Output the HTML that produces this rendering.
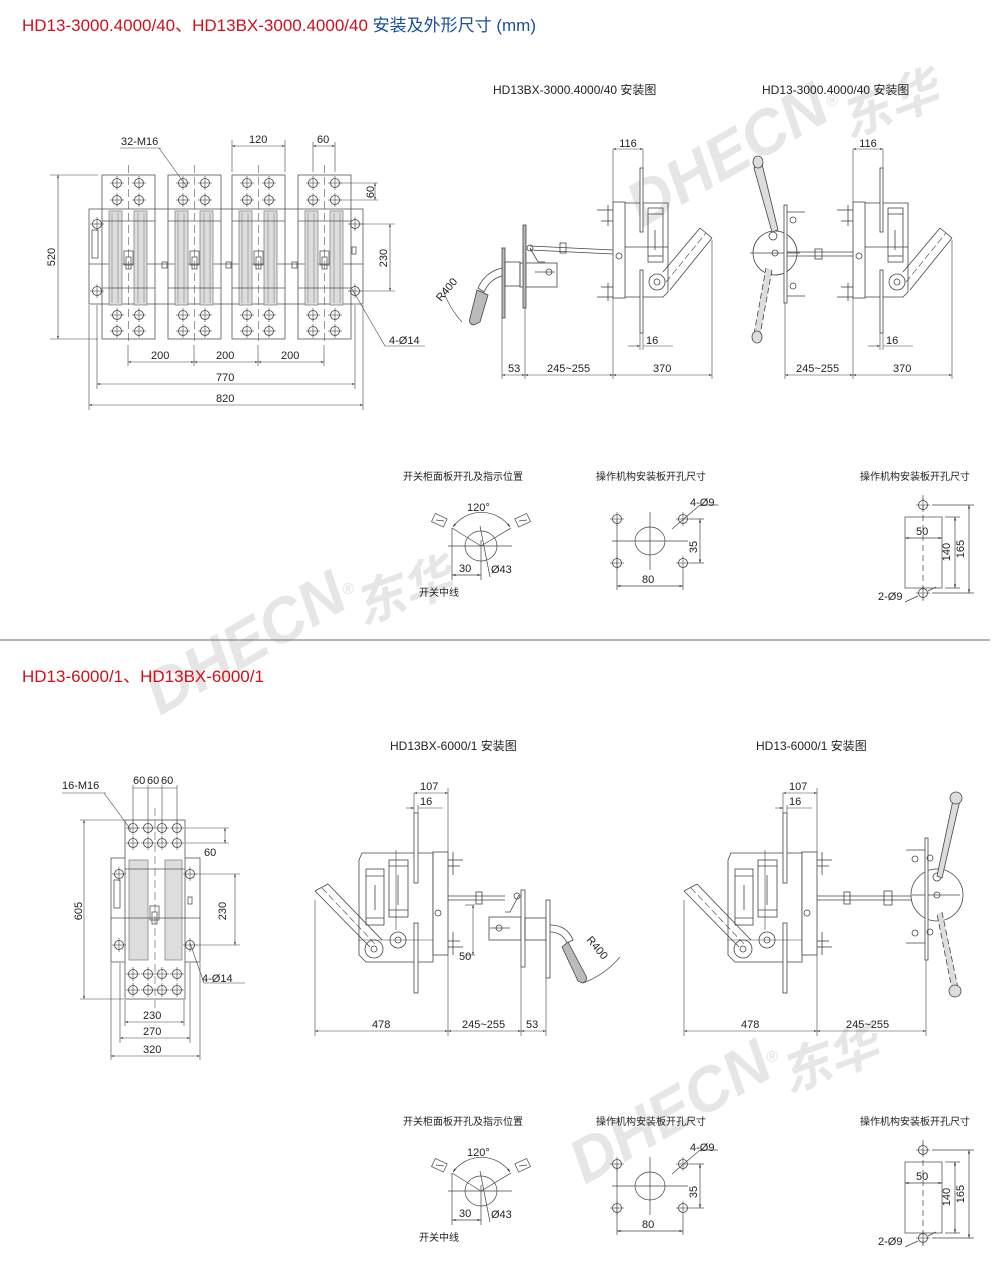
<!DOCTYPE html>
<html><head><meta charset="utf-8"><style>
html,body{margin:0;padding:0;background:#fff}
svg{display:block}
text{font-family:"Liberation Sans","Noto Sans CJK SC",sans-serif;fill:#222}
.d{font-size:11px}
.t{font-size:12px}
.s{font-size:10px}
</style></head><body>
<svg width="1000" height="1262" viewBox="0 0 1000 1262" xmlns="http://www.w3.org/2000/svg">
<defs>
<marker id="a" viewBox="0 0 10 10" refX="10" refY="5" markerWidth="5" markerHeight="5" orient="auto-start-reverse"><path d="M0,2 L10,5 L0,8z" fill="#333"/></marker>
<g id="hole"><circle r="4.5" fill="none" stroke="#444" stroke-width="0.8"/><line x1="-7" y1="0" x2="7" y2="0" stroke="#444" stroke-width="0.6"/><line x1="0" y1="-7" x2="0" y2="7" stroke="#444" stroke-width="0.6"/></g>
<g id="mod" fill="none" stroke="#555" stroke-width="0.8">
 <rect x="0" y="0" width="53" height="164"/>
 <rect x="7" y="36" width="13" height="94" fill="#ddd" stroke="#888"/>
 <rect x="32" y="36" width="13" height="94" fill="#ddd" stroke="#888"/>
 <line x1="10" y1="38" x2="10" y2="128" stroke="#999"/><line x1="16" y1="38" x2="16" y2="128" stroke="#999"/>
 <line x1="36" y1="38" x2="36" y2="128" stroke="#999"/><line x1="42" y1="38" x2="42" y2="128" stroke="#999"/>
 <line x1="0" y1="46" x2="53" y2="46"/><line x1="0" y1="113" x2="53" y2="113"/>
 <rect x="22" y="76" width="9" height="14"/><rect x="24" y="82" width="5" height="12"/>
 <line x1="26.5" y1="-10" x2="26.5" y2="170" stroke-dasharray="8 4" stroke-width="0.6"/>
 <use href="#hole" x="15" y="8"/><use href="#hole" x="37" y="8"/>
 <use href="#hole" x="15" y="25"/><use href="#hole" x="37" y="25"/>
 <use href="#hole" x="15" y="140"/><use href="#hole" x="37" y="140"/>
 <use href="#hole" x="15" y="156"/><use href="#hole" x="37" y="156"/>
</g>
<g id="tmech" fill="none" stroke="#444" stroke-width="0.8">
 <rect x="0" y="202" width="12" height="96" fill="#fff"/>
 <path d="M12,203 H55 V292 L50,297 H12"/>
 <rect x="35" y="208" width="15" height="54"/>
 <line x1="35" y1="214" x2="50" y2="214"/><line x1="35" y1="256" x2="50" y2="256"/>
 <line x1="42" y1="230" x2="42" y2="250"/>
 <rect x="27" y="168" width="3" height="64" fill="#fff"/>
 <rect x="27" y="270" width="3" height="63" fill="#fff"/>
 <circle cx="44" cy="282" r="8"/><circle cx="44" cy="282" r="3"/>
 <circle cx="6" cy="256" r="3"/>
 <line x1="-16" y1="210" x2="0" y2="210"/><line x1="-12" y1="221" x2="0" y2="221"/>
 <line x1="-16" y1="297" x2="0" y2="297"/><line x1="-12" y1="287" x2="0" y2="287"/>
 <line x1="-5" y1="205" x2="-5" y2="226"/><line x1="-5" y1="283" x2="-5" y2="301"/>
 <line x1="12" y1="247" x2="55" y2="247"/>
 <line x1="50" y1="272" x2="87" y2="228"/><line x1="57" y1="290" x2="99" y2="238"/>
 <line x1="87" y1="228" x2="99" y2="238"/>
 <line x1="53" y1="282" x2="93" y2="233" stroke-dasharray="7 3" stroke-width="0.6"/>
 <line x1="0" y1="149" x2="0" y2="202" stroke-width="0.6"/><line x1="30" y1="149" x2="30" y2="168" stroke-width="0.6"/>
 <line x1="0" y1="149" x2="30" y2="149" marker-start="url(#a)" marker-end="url(#a)" stroke-width="0.6"/>
 <line x1="27" y1="333" x2="27" y2="350" stroke-width="0.6"/><line x1="30" y1="333" x2="30" y2="350" stroke-width="0.6"/>
 <line x1="15" y1="346" x2="27" y2="346" marker-end="url(#a)" stroke-width="0.6"/><line x1="30" y1="346" x2="60" y2="346" stroke-width="0.6"/>
 <line x1="0" y1="298" x2="0" y2="379" stroke-width="0.6"/><line x1="99" y1="240" x2="99" y2="379" stroke-width="0.6"/>
 <line x1="0" y1="375" x2="99" y2="375" marker-start="url(#a)" marker-end="url(#a)" stroke-width="0.6"/>
</g>
<g id="bmech" fill="none" stroke="#444" stroke-width="0.8">
 <path d="M-89,860 L-86,853 H-15 V962 H-82 L-89,955 Z" fill="#fff"/>
 <rect x="-15" y="852" width="15" height="103" fill="#fff"/>
 <rect x="-82" y="869" width="18" height="56"/><line x1="-82" y1="876" x2="-64" y2="876"/><line x1="-82" y1="918" x2="-64" y2="918"/>
 <rect x="-59" y="860" width="19" height="57"/><line x1="-59" y1="866" x2="-40" y2="866"/><line x1="-59" y1="910" x2="-40" y2="910"/>
 <line x1="-73" y1="885" x2="-73" y2="910"/><line x1="-50" y1="875" x2="-50" y2="905"/>
 <line x1="-52" y1="850" x2="-52" y2="930" stroke-width="0.6"/>
 <rect x="-34" y="813" width="4" height="70" fill="#fff"/><rect x="-34" y="923" width="4" height="70" fill="#fff"/>
 <circle cx="-74" cy="949" r="9"/><circle cx="-74" cy="949" r="3"/>
 <circle cx="-50" cy="940" r="8"/><circle cx="-50" cy="940" r="3"/>
 <line x1="-90" y1="940" x2="-15" y2="940" stroke-width="0.6"/>
 <circle cx="-10" cy="913" r="3"/>
 <line x1="0" y1="860" x2="15" y2="860"/><line x1="0" y1="866" x2="12" y2="866"/><line x1="5" y1="852" x2="5" y2="875"/>
 <line x1="0" y1="947" x2="15" y2="947"/><line x1="0" y1="941" x2="12" y2="941"/><line x1="5" y1="932" x2="5" y2="955"/>
 <line x1="-133" y1="891" x2="-78" y2="947"/><line x1="-120" y1="884" x2="-66" y2="940"/>
 <line x1="-133" y1="891" x2="-120" y2="884"/>
 <line x1="-126" y1="888" x2="-72" y2="945" stroke-dasharray="7 3" stroke-width="0.6"/>
 <line x1="-34" y1="793" x2="-34" y2="813" stroke-width="0.6"/><line x1="0" y1="788" x2="0" y2="852" stroke-width="0.6"/>
 <line x1="-34" y1="793" x2="0" y2="793" marker-start="url(#a)" marker-end="url(#a)" stroke-width="0.6"/>
 <line x1="-30" y1="805" x2="-30" y2="813" stroke-width="0.6"/>
 <line x1="-42" y1="808" x2="-34" y2="808" marker-end="url(#a)" stroke-width="0.6"/><line x1="-30" y1="808" x2="-5" y2="808" stroke-width="0.6"/>
 <line x1="-133" y1="900" x2="-133" y2="1036" stroke-width="0.6"/><line x1="0" y1="955" x2="0" y2="1036" stroke-width="0.6"/>
 <line x1="-133" y1="1031" x2="0" y2="1031" marker-start="url(#a)" marker-end="url(#a)" stroke-width="0.6"/>
</g>
<g id="panels">
 <text x="403" y="480" class="s">开关柜面板开孔及指示位置</text>
 <text x="596" y="480" class="s">操作机构安装板开孔尺寸</text>
 <text x="860" y="480" class="s">操作机构安装板开孔尺寸</text>
 <g fill="none" stroke="#444" stroke-width="0.7">
  <ellipse cx="481" cy="546" rx="16" ry="15"/>
  <line x1="448" y1="546" x2="512" y2="546"/>
  <line x1="452" y1="528" x2="452" y2="580"/><line x1="481" y1="540" x2="481" y2="580"/>
  <line x1="481" y1="546" x2="452" y2="528"/><line x1="481" y1="546" x2="511" y2="528"/>
  <path d="M453,527 A35,35 0 0 1 510,527" marker-start="url(#a)" marker-end="url(#a)"/>
  <line x1="480" y1="526" x2="490" y2="577"/>
  <line x1="452" y1="575" x2="481" y2="575" marker-start="url(#a)" marker-end="url(#a)"/>
  <rect x="433" y="516" width="13" height="9" transform="rotate(25 440 520)"/>
  <rect x="516" y="516" width="13" height="9" transform="rotate(-25 522 520)"/>
  <line x1="436" y1="520" x2="444" y2="521"/><line x1="519" y1="521" x2="527" y2="520"/>
  <use href="#hole" x="617" y="519"/><use href="#hole" x="683" y="519"/>
  <use href="#hole" x="617" y="563"/><use href="#hole" x="683" y="563"/>
  <ellipse cx="650" cy="541" rx="15" ry="14"/>
  <line x1="612" y1="541" x2="688" y2="541"/><line x1="650" y1="512" x2="650" y2="570"/>
  <line x1="617" y1="519" x2="617" y2="590"/><line x1="683" y1="570" x2="683" y2="590"/>
  <line x1="617" y1="586" x2="683" y2="586" marker-start="url(#a)" marker-end="url(#a)"/>
  <line x1="690" y1="519" x2="704" y2="519"/><line x1="690" y1="563" x2="704" y2="563"/>
  <line x1="700" y1="519" x2="700" y2="563" marker-start="url(#a)" marker-end="url(#a)"/>
  <line x1="672" y1="529" x2="700" y2="505"/><line x1="700" y1="505" x2="718" y2="505"/>
  <rect x="905" y="517" width="37" height="71"/>
  <line x1="923" y1="495" x2="923" y2="603" stroke-dasharray="6 4"/>
  <use href="#hole" x="923" y="505"/><use href="#hole" x="923" y="593"/>
  <line x1="905" y1="538" x2="942" y2="538" marker-start="url(#a)" marker-end="url(#a)"/>
  <line x1="945" y1="517" x2="960" y2="517"/><line x1="945" y1="588" x2="960" y2="588"/>
  <line x1="932" y1="505" x2="974" y2="505"/><line x1="932" y1="593" x2="974" y2="593"/>
  <line x1="955" y1="517" x2="955" y2="588" marker-start="url(#a)" marker-end="url(#a)"/>
  <line x1="969" y1="505" x2="969" y2="593" marker-start="url(#a)" marker-end="url(#a)"/>
  <line x1="905" y1="602" x2="918" y2="596"/><line x1="928" y1="591" x2="936" y2="587"/>
 </g>
 <text x="467" y="511" class="d">120°</text>
 <text x="459" y="572" class="d">30</text>
 <text x="491" y="573" class="d">Ø43</text>
 <text x="419" y="596" class="s">开关中线</text>
 <text x="690" y="506" class="d">4-Ø9</text>
 <text x="642" y="583" class="d">80</text>
 <text x="697" y="547" class="d" transform="rotate(-90 697 547)" text-anchor="middle">35</text>
 <text x="916" y="535" class="d">50</text>
 <text x="950" y="552" class="d" transform="rotate(-90 950 552)" text-anchor="middle">140</text>
 <text x="964" y="549" class="d" transform="rotate(-90 964 549)" text-anchor="middle">165</text>
 <text x="878" y="600" class="d">2-Ø9</text>
</g>
</defs>

<g font-family="Liberation Sans, sans-serif" font-weight="bold" font-style="italic">
 <text x="160" y="716" font-size="62" transform="rotate(-30 160 716)" style="fill:#e6e6e6">DHECN</text>
 <text x="342" y="594" font-size="16" style="fill:#e6e6e6">®</text>
 <text x="362" y="625" font-size="50" transform="rotate(-20 362 625)" style="fill:#e6e6e6;font-family:'Noto Sans CJK SC',sans-serif">东华</text>
 <text x="585" y="1185" font-size="62" transform="rotate(-30 585 1185)" style="fill:#e6e6e6">DHECN</text>
 <text x="766" y="1062" font-size="16" style="fill:#e6e6e6">®</text>
 <text x="788" y="1093" font-size="50" transform="rotate(-20 788 1093)" style="fill:#e6e6e6;font-family:'Noto Sans CJK SC',sans-serif">东华</text>
 <text x="642" y="228" font-size="62" transform="rotate(-30 642 228)" style="fill:#e6e6e6">DHECN</text>
 <text x="826" y="106" font-size="16" style="fill:#e6e6e6">®</text>
 <text x="848" y="138" font-size="50" transform="rotate(-20 848 138)" style="fill:#e6e6e6;font-family:'Noto Sans CJK SC',sans-serif">东华</text>
</g>

<text x="22" y="31" style="font-size:17px;fill:#d0101b">HD13-3000.4000/40、HD13BX-3000.4000/40 <tspan style="fill:#1a4f9c">安装及外形尺寸 (mm)</tspan></text>
<line x1="0" y1="640" x2="990" y2="640" stroke="#888" stroke-width="1.2"/>
<text x="22" y="682" style="font-size:17px;fill:#d0101b">HD13-6000/1、HD13BX-6000/1</text>

<text x="493" y="94" class="t">HD13BX-3000.4000/40 安装图</text>
<text x="762" y="94" class="t">HD13-3000.4000/40 安装图</text>
<text x="390" y="750" class="t">HD13BX-6000/1 安装图</text>
<text x="756" y="750" class="t">HD13-6000/1 安装图</text>

<g fill="none" stroke="#555" stroke-width="0.8">
 <rect x="89" y="209" width="274" height="95" fill="#fff"/>
 <rect x="92" y="230" width="6" height="28"/>
 <line x1="89" y1="264" x2="363" y2="264"/>
</g>
<use href="#mod" x="102" y="175"/><use href="#mod" x="168" y="175"/><use href="#mod" x="232" y="175"/><use href="#mod" x="298" y="175"/>
<g fill="none" stroke="#555" stroke-width="0.8">
 <rect x="162" y="262" width="5" height="6"/><rect x="226" y="262" width="5" height="6"/><rect x="292" y="262" width="5" height="6"/><rect x="352" y="247" width="4" height="7"/>
</g>
<use href="#hole" x="97" y="224"/><use href="#hole" x="355" y="224"/><use href="#hole" x="97" y="291"/><use href="#hole" x="355" y="291"/>
<g fill="none" stroke="#444" stroke-width="0.6">
 <line x1="50" y1="175" x2="98" y2="175"/><line x1="50" y1="339" x2="98" y2="339"/>
 <line x1="58" y1="175" x2="58" y2="339" marker-start="url(#a)" marker-end="url(#a)"/>
 <line x1="232" y1="140" x2="232" y2="172"/><line x1="285" y1="140" x2="285" y2="172"/>
 <line x1="232" y1="146" x2="285" y2="146" marker-start="url(#a)" marker-end="url(#a)"/>
 <line x1="313" y1="142" x2="313" y2="172"/><line x1="335" y1="142" x2="335" y2="172"/>
 <line x1="313" y1="146" x2="335" y2="146" marker-start="url(#a)" marker-end="url(#a)"/>
 <line x1="340" y1="183" x2="378" y2="183"/><line x1="340" y1="200" x2="378" y2="200"/>
 <line x1="375" y1="183" x2="375" y2="200" marker-start="url(#a)" marker-end="url(#a)"/>
 <line x1="360" y1="224" x2="395" y2="224"/><line x1="360" y1="291" x2="395" y2="291"/>
 <line x1="390" y1="224" x2="390" y2="291" marker-start="url(#a)" marker-end="url(#a)"/>
 <line x1="128" y1="345" x2="128" y2="366"/><line x1="194" y1="345" x2="194" y2="366"/><line x1="258" y1="345" x2="258" y2="366"/><line x1="324" y1="345" x2="324" y2="366"/>
 <line x1="128" y1="362" x2="194" y2="362" marker-start="url(#a)" marker-end="url(#a)"/>
 <line x1="194" y1="362" x2="258" y2="362" marker-start="url(#a)" marker-end="url(#a)"/>
 <line x1="258" y1="362" x2="324" y2="362" marker-start="url(#a)" marker-end="url(#a)"/>
 <line x1="97" y1="305" x2="97" y2="389"/><line x1="355" y1="305" x2="355" y2="389"/>
 <line x1="97" y1="384" x2="355" y2="384" marker-start="url(#a)" marker-end="url(#a)"/>
 <line x1="89" y1="305" x2="89" y2="410"/><line x1="363" y1="305" x2="363" y2="410"/>
 <line x1="89" y1="405" x2="363" y2="405" marker-start="url(#a)" marker-end="url(#a)"/>
 <line x1="120" y1="148" x2="161" y2="148"/><line x1="159" y1="148" x2="187" y2="187"/>
 <line x1="352" y1="289" x2="385" y2="346"/><line x1="385" y1="346" x2="425" y2="346"/>
</g>
<text x="121" y="145" class="d">32-M16</text>
<text x="249" y="143" class="d">120</text>
<text x="317" y="143" class="d">60</text>
<text x="374" y="192" class="d" transform="rotate(-90 374 192)" text-anchor="middle">60</text>
<text x="387" y="258" class="d" transform="rotate(-90 387 258)" text-anchor="middle">230</text>
<text x="55" y="257" class="d" transform="rotate(-90 55 257)" text-anchor="middle">520</text>
<text x="389" y="344" class="d">4-Ø14</text>
<text x="151" y="359" class="d">200</text><text x="216" y="359" class="d">200</text><text x="281" y="359" class="d">200</text>
<text x="216" y="381" class="d">770</text><text x="216" y="402" class="d">820</text>

<use href="#tmech" x="613" y="0"/>
<g fill="none" stroke="#444" stroke-width="0.8">
 <line x1="530" y1="246" x2="613" y2="250"/><line x1="530" y1="250" x2="613" y2="254"/>
 <rect x="560" y="243" width="6" height="10"/>
 <circle cx="530" cy="248" r="3"/>
 <path d="M530,248 L538,262 L545,262"/>
 <rect x="520" y="263" width="37" height="24" fill="#fff"/>
 <circle cx="549" cy="272" r="3"/><line x1="535" y1="272" x2="555" y2="272"/>
 <rect x="523" y="225" width="3" height="83" fill="#bbb"/>
 <rect x="502" y="248" width="3" height="70" fill="#bbb"/>
 <rect x="505" y="262" width="15" height="24"/>
 <path d="M502,268 Q485,272 478,288 L484,292 Q490,279 502,276"/>
 <path d="M477,290 L470,318 Q468,324 474,325 L480,322 L488,295 Z" fill="#bbb"/>
 <path d="M462,322 A95,95 0 0 1 443,290" stroke-width="0.6"/>
 <line x1="502" y1="318" x2="502" y2="379" stroke-width="0.6"/><line x1="525" y1="308" x2="525" y2="379" stroke-width="0.6"/>
 <line x1="502" y1="375" x2="525" y2="375" marker-start="url(#a)" marker-end="url(#a)" stroke-width="0.6"/>
 <line x1="525" y1="375" x2="613" y2="375" marker-start="url(#a)" marker-end="url(#a)" stroke-width="0.6"/>
</g>
<text x="441" y="302" class="d" transform="rotate(-50 441 302)">R400</text>
<text x="508" y="372" class="d">53</text><text x="547" y="372" class="d">245~255</text><text x="653" y="372" class="d">370</text>
<text x="640" y="147" class="d" text-anchor="middle" dx="-12">116</text>
<text x="646" y="344" class="d">16</text>

<use href="#tmech" x="853" y="0"/>
<g fill="none" stroke="#444" stroke-width="0.8">
 <circle cx="775" cy="253" r="22" fill="#fff"/>
 <line x1="750" y1="253" x2="800" y2="253"/><circle cx="775" cy="253" r="3"/>
 <circle cx="773" cy="236" r="4"/>
 <rect x="784" y="205" width="3" height="98" fill="#fff"/>
 <line x1="787" y1="212" x2="805" y2="212"/><line x1="787" y1="296" x2="805" y2="296"/>
 <circle cx="793" cy="220" r="3"/><circle cx="793" cy="286" r="3"/>
 <line x1="787" y1="252" x2="853" y2="252"/><line x1="787" y1="256" x2="853" y2="256"/>
 <rect x="815" y="249" width="7" height="10"/>
 <path d="M754,168 Q757,160 762,164 L778,230 L772,232 Z" fill="#ddd"/>
 <ellipse cx="758" cy="162" rx="5" ry="6" fill="#ddd"/>
 <path d="M772,270 L760,335 L754,334 L766,268" fill="#ddd" stroke-dasharray="6 3"/>
 <ellipse cx="757" cy="337" rx="5" ry="6" fill="#ddd"/>
 <line x1="785" y1="303" x2="785" y2="379" stroke-width="0.6"/>
 <line x1="785" y1="375" x2="853" y2="375" marker-start="url(#a)" marker-end="url(#a)" stroke-width="0.6"/>
</g>
<text x="796" y="372" class="d">245~255</text><text x="893" y="372" class="d">370</text>
<text x="880" y="147" class="d" text-anchor="middle" dx="-12">116</text>
<text x="886" y="344" class="d">16</text>

<use href="#panels"/>
<use href="#panels" y="645"/>

<g fill="none" stroke="#555" stroke-width="0.8">
 <rect x="111" y="858" width="89" height="104" fill="#fff"/>
 <rect x="125" y="820" width="60" height="179" fill="#fff"/>
 <rect x="114" y="880" width="6" height="28"/>
 <rect x="129" y="860" width="19" height="100" fill="#ddd" stroke="#888"/>
 <rect x="165" y="860" width="17" height="100" fill="#ddd" stroke="#888"/>
 <line x1="111" y1="918" x2="200" y2="918"/><line x1="125" y1="869" x2="185" y2="869"/>
 <rect x="150" y="906" width="9" height="14"/><rect x="152" y="912" width="5" height="12"/>
 <rect x="188" y="897" width="4" height="7"/>
 <line x1="155" y1="808" x2="155" y2="1010" stroke-dasharray="8 4" stroke-width="0.6"/>
</g>
<use href="#hole" x="133" y="828"/><use href="#hole" x="148" y="828"/><use href="#hole" x="162" y="828"/><use href="#hole" x="177" y="828"/>
<use href="#hole" x="133" y="843"/><use href="#hole" x="148" y="843"/><use href="#hole" x="162" y="843"/><use href="#hole" x="177" y="843"/>
<use href="#hole" x="133" y="974"/><use href="#hole" x="148" y="974"/><use href="#hole" x="162" y="974"/><use href="#hole" x="177" y="974"/>
<use href="#hole" x="133" y="990"/><use href="#hole" x="148" y="990"/><use href="#hole" x="162" y="990"/><use href="#hole" x="177" y="990"/>
<use href="#hole" x="119" y="874"/><use href="#hole" x="190" y="874"/><use href="#hole" x="119" y="945"/><use href="#hole" x="190" y="945"/>
<g fill="none" stroke="#444" stroke-width="0.6">
 <line x1="80" y1="820" x2="124" y2="820"/><line x1="80" y1="999" x2="124" y2="999"/>
 <line x1="84" y1="820" x2="84" y2="999" marker-start="url(#a)" marker-end="url(#a)"/>
 <line x1="133" y1="785" x2="133" y2="822"/><line x1="148" y1="785" x2="148" y2="822"/><line x1="162" y1="785" x2="162" y2="822"/><line x1="177" y1="785" x2="177" y2="822"/>
 <line x1="133" y1="788" x2="177" y2="788"/>
 <line x1="185" y1="828" x2="229" y2="828"/><line x1="185" y1="843" x2="229" y2="843"/>
 <line x1="225" y1="828" x2="225" y2="843" marker-start="url(#a)" marker-end="url(#a)"/>
 <line x1="196" y1="874" x2="240" y2="874"/><line x1="196" y1="945" x2="240" y2="945"/>
 <line x1="235" y1="874" x2="235" y2="945" marker-start="url(#a)" marker-end="url(#a)"/>
 <line x1="125" y1="1000" x2="125" y2="1026"/><line x1="184" y1="1000" x2="184" y2="1026"/>
 <line x1="125" y1="1022" x2="184" y2="1022" marker-start="url(#a)" marker-end="url(#a)"/>
 <line x1="120" y1="963" x2="120" y2="1043"/><line x1="190" y1="963" x2="190" y2="1043"/>
 <line x1="120" y1="1038" x2="190" y2="1038" marker-start="url(#a)" marker-end="url(#a)"/>
 <line x1="111" y1="963" x2="111" y2="1060"/><line x1="200" y1="963" x2="200" y2="1060"/>
 <line x1="111" y1="1056" x2="200" y2="1056" marker-start="url(#a)" marker-end="url(#a)"/>
 <line x1="62" y1="793" x2="106" y2="793"/><line x1="104" y1="793" x2="131" y2="830"/>
 <line x1="190" y1="943" x2="204" y2="983"/><line x1="204" y1="983" x2="245" y2="983"/>
</g>
<text x="62" y="789" class="d">16-M16</text>
<text x="133" y="784" class="d">60</text><text x="147" y="784" class="d">60</text><text x="161" y="784" class="d">60</text>
<text x="204" y="856" class="d">60</text>
<text x="226" y="911" class="d" transform="rotate(-90 226 911)" text-anchor="middle">230</text>
<text x="82" y="911" class="d" transform="rotate(-90 82 911)" text-anchor="middle">605</text>
<text x="202" y="982" class="d">4-Ø14</text>
<text x="143" y="1019" class="d">230</text><text x="143" y="1035" class="d">270</text><text x="143" y="1053" class="d">320</text>

<use href="#bmech" x="448" y="0"/>
<g fill="none" stroke="#444" stroke-width="0.8">
 <line x1="448" y1="896" x2="505" y2="896"/><line x1="448" y1="900" x2="505" y2="900"/>
 <rect x="476" y="892" width="6" height="12"/>
 <path d="M519,895 L510,912 L505,912"/><circle cx="517" cy="896" r="3"/>
 <rect x="489" y="917" width="32" height="23" fill="#fff"/>
 <circle cx="499" cy="928" r="3"/><line x1="490" y1="928" x2="510" y2="928"/>
 <rect x="521" y="890" width="4" height="77" fill="#fff"/>
 <rect x="525" y="918" width="21" height="22"/>
 <rect x="546" y="900" width="4" height="78" fill="#fff"/>
 <path d="M550,925 Q567,925 573,940 L567,943 Q562,932 550,932"/>
 <path d="M568,942 L586,976 Q588,982 582,983 L578,981 L562,947 Z" fill="#bbb"/>
 <path d="M583,983 A90,90 0 0 0 620,957" stroke-width="0.6"/>
 <line x1="465" y1="905" x2="475" y2="905" stroke-width="0.6"/><line x1="465" y1="955" x2="475" y2="955" stroke-width="0.6"/>
 <line x1="473" y1="905" x2="473" y2="955" marker-start="url(#a)" marker-end="url(#a)" stroke-width="0.6"/>
 <line x1="521" y1="967" x2="521" y2="1036" stroke-width="0.6"/><line x1="546" y1="978" x2="546" y2="1036" stroke-width="0.6"/>
 <line x1="448" y1="1031" x2="521" y2="1031" marker-start="url(#a)" marker-end="url(#a)" stroke-width="0.6"/>
 <line x1="521" y1="1031" x2="546" y2="1031" marker-start="url(#a)" marker-end="url(#a)" stroke-width="0.6"/>
</g>
<text x="459" y="960" class="d">50</text>
<text x="586" y="940" class="d" transform="rotate(50 586 940)">R400</text>
<text x="420" y="790" class="d">107</text><text x="420" y="805" class="d">16</text>
<text x="372" y="1028" class="d">478</text><text x="462" y="1028" class="d">245~255</text><text x="526" y="1028" class="d">53</text>

<use href="#bmech" x="817" y="0"/>
<g fill="none" stroke="#444" stroke-width="0.8">
 <line x1="817" y1="896" x2="925" y2="896"/><line x1="817" y1="900" x2="925" y2="900"/>
 <rect x="844" y="892" width="6" height="12"/><rect x="884" y="891" width="8" height="14"/>
 <circle cx="937" cy="895" r="26" fill="#fff"/>
 <line x1="912" y1="895" x2="960" y2="895"/><circle cx="937" cy="895" r="3"/>
 <circle cx="937" cy="877" r="4"/>
 <rect x="925" y="838" width="3" height="122" fill="#fff"/>
 <line x1="906" y1="850" x2="925" y2="850"/><line x1="906" y1="943" x2="925" y2="943"/>
 <circle cx="915" cy="859" r="3"/><circle cx="930" cy="858" r="3"/>
 <circle cx="915" cy="933" r="3"/><circle cx="930" cy="932" r="3"/>
 <path d="M953,800 L960,800 L942,878 L937,876 Z" fill="#ddd"/>
 <ellipse cx="956" cy="798" rx="6" ry="6" fill="#ddd"/>
 <path d="M942,912 L958,988 L952,989 L937,914" fill="#ddd" stroke-dasharray="6 3"/>
 <ellipse cx="955" cy="991" rx="6" ry="6" fill="#ddd"/>
 <line x1="926" y1="960" x2="926" y2="1036" stroke-width="0.6"/>
 <line x1="817" y1="1031" x2="926" y2="1031" marker-start="url(#a)" marker-end="url(#a)" stroke-width="0.6"/>
</g>
<text x="789" y="790" class="d">107</text><text x="789" y="805" class="d">16</text>
<text x="741" y="1028" class="d">478</text><text x="846" y="1028" class="d">245~255</text>
</svg>
</body></html>
